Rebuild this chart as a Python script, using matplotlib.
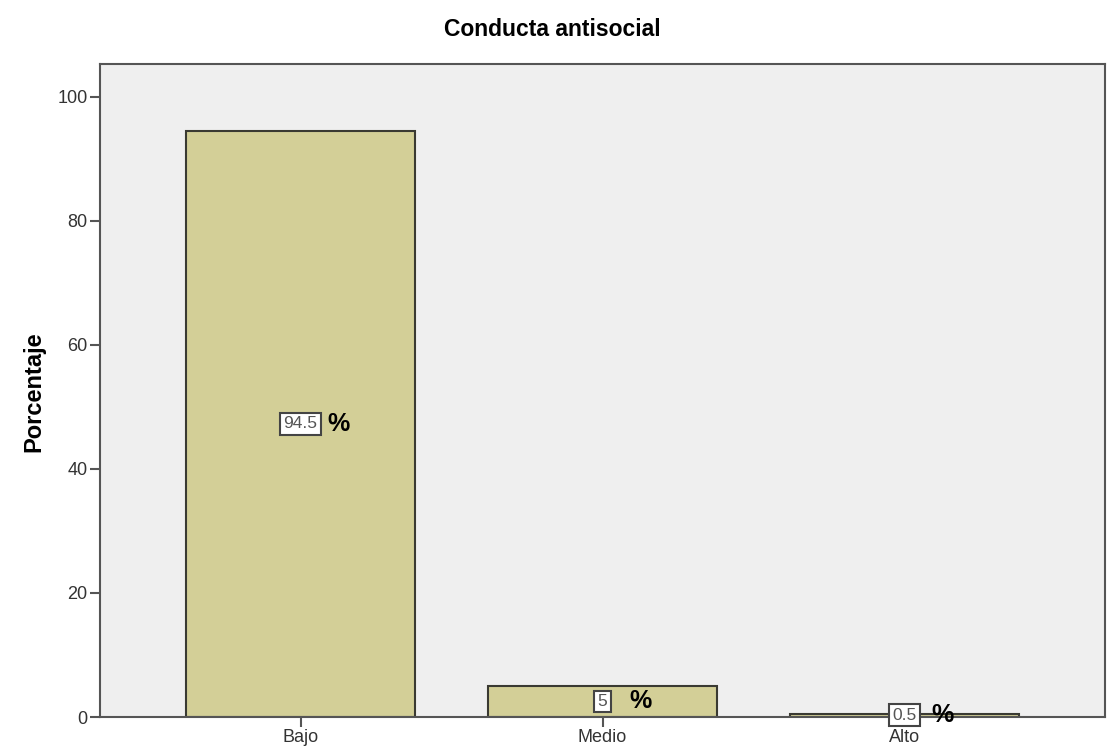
import matplotlib
matplotlib.use("Agg")
from matplotlib import pyplot as plt

categorias = ["Bajo", "Medio", "Alto"]
porcentajes = [94.5, 5, 0.5]
etiquetas = ["94.5", "5", "0.5"]

plt.rcParams["font.family"] = ["Liberation Sans", "DejaVu Sans"]

fig = plt.figure(figsize=(11.08, 7.49), dpi=100)
ax = fig.add_axes([100/1108, 1 - 717/749, 1005/1108, 653/749])
ax.set_facecolor("#efefef")

x = range(len(categorias))
ax.bar(x, porcentajes, width=0.757, color="#d3cf97", edgecolor="#3a3a32", linewidth=1.5)

# etiquetas de valor con el signo % al lado
for i, v in enumerate(porcentajes):
    ax.text(i, v / 2, etiquetas[i], ha="center", va="center", fontsize=12.5, color="#555555",
            bbox=dict(boxstyle="square,pad=0.2", fc="white", ec="#444444", lw=1.5))
    ax.text(i + 0.09, v / 2, "%", ha="left", va="center", fontsize=18, fontweight="bold", color="black")

ax.set_xlim(-0.664, 2.664)
ax.set_ylim(0, 105.3)
ax.set_yticks([0, 20, 40, 60, 80, 100])
ax.set_xticks(list(x))
ax.set_xticklabels(categorias)
ax.tick_params(axis="both", direction="out", length=7, width=1.5, color="#555555",
               labelsize=13, labelcolor="#333333", pad=2)
for s in ax.spines.values():
    s.set_color("#555555")
    s.set_linewidth(1.5)

ax.set_ylabel("Porcentaje", fontsize=17, fontweight="bold")
ax.yaxis.set_label_coords(-0.0547, 0.498)
fig.text(552/1108, 1 - 30/749, "Conducta antisocial", ha="center", va="center",
         fontsize=16.5, fontweight="bold")

fig.savefig("out.png", dpi=100)
